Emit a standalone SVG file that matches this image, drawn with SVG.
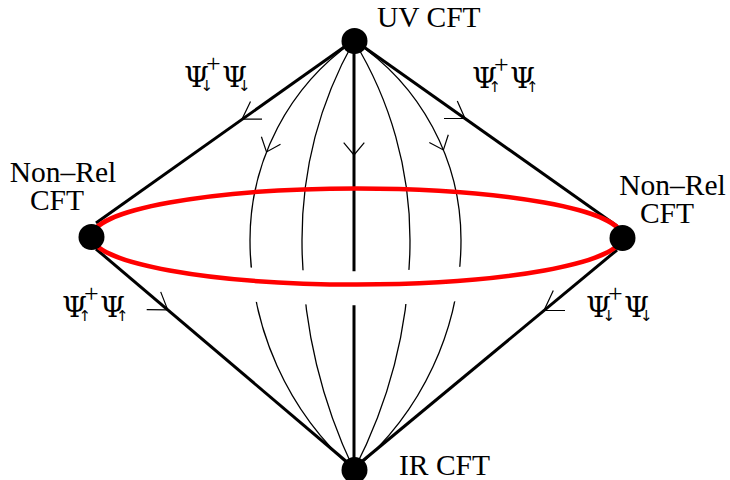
<svg xmlns="http://www.w3.org/2000/svg" width="730" height="480" viewBox="0 0 730 480">
<style>
  text { font-family: "Liberation Serif", "DejaVu Serif", serif; fill: #000; }
  .lbl { font-size: 29.5px; }
  .psi { font-family: "DejaVu Serif", "Liberation Serif", serif; font-size: 28.5px; }
  .sup { font-family: "Liberation Serif", serif; font-size: 26px; }
  .sub { font-family: "DejaVu Sans", sans-serif; font-size: 15px; }
  .edge { fill: none; stroke: #000; stroke-width: 3; }
  .mer { fill: none; stroke: #000; stroke-width: 1.3; }
  .axis { fill: none; stroke: #000; stroke-width: 3; }
  .ah { fill: none; stroke: #000; stroke-width: 1.2; }
  .dot { fill: #000; }
</style>
<defs>
  <clipPath id="gapclip"><rect x="232" y="240" width="250" height="80"/></clipPath>
</defs>
<rect width="730" height="480" fill="#fff"/>
<g id="connectors">
  <!-- meridians -->
  <path class="mer" d="M354,41 A242.4,242.4 0 0 0 250,240 A306.3,306.3 0 0 0 354,470"/>
  <path class="mer" d="M354,41 A406.8,406.8 0 0 0 302,240 A534.7,534.7 0 0 0 354,470"/>
  <path class="mer" d="M354,41 A381.6,381.6 0 0 1 410,240 A500.3,500.3 0 0 1 354,470"/>
  <path class="mer" d="M354,41 A238.6,238.6 0 0 1 461,240 A300.7,300.7 0 0 1 354,470"/>
  <line class="axis" x1="354" y1="41" x2="354" y2="470"/>
  <!-- diamond edges -->
  <line class="edge" x1="354" y1="40" x2="96" y2="223"/>
  <line class="edge" x1="354" y1="40" x2="617" y2="226"/>
  <line class="edge" x1="96" y1="249" x2="354" y2="468"/>
  <line class="edge" x1="617" y1="250" x2="354" y2="468"/>
  <!-- break behind the lower half of the ring -->
  <path d="M232,283 A265,48 0 0 0 482,282" fill="none" stroke="#fff" stroke-width="34" clip-path="url(#gapclip)"/>
  <!-- ring -->
  <ellipse cx="357" cy="236.5" rx="265" ry="48" fill="none" stroke="#f00" stroke-width="4.5"/>
  <!-- arrowheads -->
  <polyline class="ah" points="250.5,101.5 242,119.2 262,119.2"/>
  <polyline class="ah" points="457.3,100.9 465,118.5 444,118.5"/>
  <polyline class="ah" points="146.7,309.7 167.7,309.9 160.7,291.9"/>
  <polyline class="ah" points="565,310.5 544,310.5 553.3,290.5"/>
  <polyline class="ah" points="343.7,142.7 354,155 364.3,142.7"/>
  <polyline class="ah" points="261.4,136.8 266.5,152 280.5,144.3"/>
  <polyline class="ah" points="448.3,134.8 443.4,150 429.3,142.5"/>
  <!-- operator labels -->
  <text transform="translate(184,87)"><tspan class="psi" x="0" y="0">Ψ</tspan><tspan class="sup" x="22" y="-15">+</tspan><tspan class="sub" x="16.5" y="4">↓</tspan><tspan class="psi" x="38" y="0">Ψ</tspan><tspan class="sub" x="54" y="4">↓</tspan></text>
  <text transform="translate(472,88)"><tspan class="psi" x="0" y="0">Ψ</tspan><tspan class="sup" x="22" y="-15">+</tspan><tspan class="sub" x="16.5" y="4">↑</tspan><tspan class="psi" x="38" y="0">Ψ</tspan><tspan class="sub" x="54" y="4">↑</tspan></text>
  <text transform="translate(62,317)"><tspan class="psi" x="0" y="0">Ψ</tspan><tspan class="sup" x="22" y="-15">+</tspan><tspan class="sub" x="16.5" y="4">↑</tspan><tspan class="psi" x="38" y="0">Ψ</tspan><tspan class="sub" x="54" y="4">↑</tspan></text>
  <text transform="translate(586,317)"><tspan class="psi" x="0" y="0">Ψ</tspan><tspan class="sup" x="22" y="-15">+</tspan><tspan class="sub" x="16.5" y="4">↓</tspan><tspan class="psi" x="38" y="0">Ψ</tspan><tspan class="sub" x="54" y="4">↓</tspan></text>
</g>
<g id="node-uv">
  <circle class="dot" cx="354.5" cy="41" r="13"/>
  <text class="lbl" x="377" y="27">UV CFT</text>
</g>
<g id="node-ir">
  <circle class="dot" cx="354.5" cy="470" r="13"/>
  <text class="lbl" x="399" y="475">IR CFT</text>
</g>
<g id="node-nonrel-left">
  <circle class="dot" cx="91.5" cy="237" r="13"/>
  <text class="lbl" x="63" y="182" text-anchor="middle">Non–Rel</text>
  <text class="lbl" x="57" y="209.5" text-anchor="middle">CFT</text>
</g>
<g id="node-nonrel-right">
  <circle class="dot" cx="622.5" cy="238" r="13"/>
  <text class="lbl" x="672.5" y="195" text-anchor="middle">Non–Rel</text>
  <text class="lbl" x="667" y="222.5" text-anchor="middle">CFT</text>
</g>
</svg>
